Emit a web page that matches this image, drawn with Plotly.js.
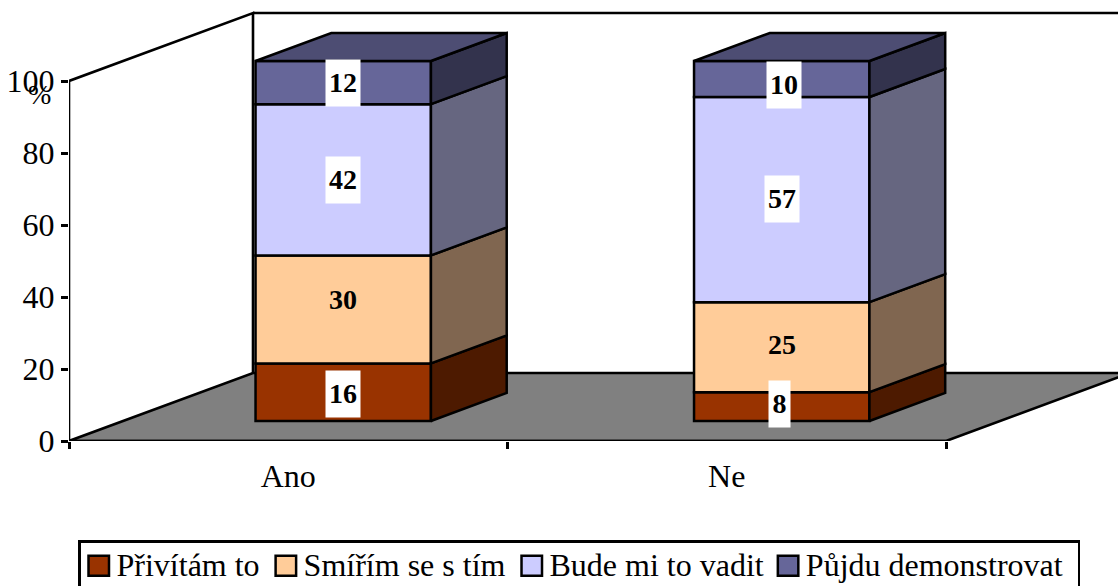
<!DOCTYPE html>
<html>
<head>
<meta charset="utf-8">
<script src="https://cdn.plot.ly/plotly-3.0.1.min.js"></script>
<style>html,body{margin:0;padding:0;background:#fff;overflow:hidden}</style>
</head>
<body>
<div id="chart" style="width:1118px;height:586px"></div>
<script>
const categories = ['Ano', 'Ne'];
const seriesNames = ['Přivítám to', 'Smířím se s tím', 'Bude mi to vadit', 'Půjdu demonstrovat'];
const privitam = [16, 8];
const smirim = [30, 25];
const vadit = [42, 57];
const demonstrovat = [12, 10];
const yTicks = [0, 20, 40, 60, 80, 100];

const seriesValues = [privitam, smirim, vadit, demonstrovat];
const frontColors = ['#993300', '#FFCC99', '#CCCCFF', '#666699'];
const sideColors = ['#4d1a00', '#806650', '#666680', '#33334d'];
const labelBackgrounds = ['#fff', 'rgba(0,0,0,0)', '#fff', '#fff'];
const topColor = '#4d4d73';

// Oblique projection of the chart's 3-D box onto the plane of the axes.
const depthX = 184 / 438.5, depthY = 68 / 3.6;
const dFront = 20 / 68, dBack = 48 / 68;
const barWidth = 0.4, centerOffset = 0.002;
const proj = (x, v, d) => [x + d * depthX, v + d * depthY];
const catPos = i => i + 0.5 + centerOffset;

const traces = [];
const cum = categories.map(() => 0);
const bases = [];
seriesValues.forEach((vals, s) => {
  const b = cum.slice();
  bases.push(b);
  vals.forEach((v, i) => cum[i] += v);
  const front = proj(0, 0, dFront);
  traces.push({
    type: 'bar', name: seriesNames[s],
    x: categories.map((c, i) => catPos(i) + front[0]),
    y: vals, base: b.map(v => v + front[1]), width: barWidth,
    marker: {color: frontColors[s], line: {color: '#000', width: 2.5}},
    hoverinfo: 'skip'
  });
});
// right side faces
seriesValues.forEach((vals, s) => {
  const X = [], Y = [];
  vals.forEach((v, i) => {
    const r = catPos(i) + barWidth / 2, lo = bases[s][i], hi = lo + v;
    [[lo, dFront], [lo, dBack], [hi, dBack], [hi, dFront], [lo, dFront]].forEach(p => {
      const q = proj(r, p[0], p[1]); X.push(q[0]); Y.push(q[1]);
    });
    X.push(null); Y.push(null);
  });
  traces.push({type: 'scatter', mode: 'lines', x: X, y: Y, fill: 'toself', fillcolor: sideColors[s],
    line: {color: '#000', width: 2.5}, showlegend: false, hoverinfo: 'skip'});
});
// top faces
(function () {
  const X = [], Y = [];
  categories.forEach((c, i) => {
    const l = catPos(i) - barWidth / 2, r = catPos(i) + barWidth / 2, t = cum[i];
    [[l, dFront], [r, dFront], [r, dBack], [l, dBack], [l, dFront]].forEach(p => {
      const q = proj(p[0], t, p[1]); X.push(q[0]); Y.push(q[1]);
    });
    X.push(null); Y.push(null);
  });
  traces.push({type: 'scatter', mode: 'lines', x: X, y: Y, fill: 'toself', fillcolor: topColor,
    line: {color: '#000', width: 2.5}, showlegend: false, hoverinfo: 'skip'});
})();
// axes frame and walls
const xEnd = categories.length;
const yTop = yTicks[yTicks.length - 1];
const wall = proj(0, yTop, 1), flr = proj(0, 0, 1);
traces.push({type: 'scatter', mode: 'lines', cliponaxis: false, showlegend: false, hoverinfo: 'skip',
  x: [xEnd, 0, 0, wall[0], flr[0], null, wall[0], 3],
  y: [0, 0, yTop, wall[1], flr[1], null, wall[1], wall[1]],
  line: {color: '#000', width: 2.6}});

const fr = proj(xEnd, 0, 1);
const floorPath = 'M0,0L' + flr[0] + ',' + flr[1] + 'L' + fr[0] + ',' + fr[1] + 'L' + xEnd + ',0Z';

// data labels: pixel nudges as seen in the reference, per category and series
const labelShiftX = [[0, 0, 0, 0], [-2.5, 0, 0, 2]];
const labelShiftY = [[-2, 9, 0, 0], [2.5, 2, 0.5, -6]];
const labelWidth = t => String(t).length > 1 ? 34 : 21;
const annotations = [];
seriesValues.forEach((vals, s) => vals.forEach((v, i) => {
  const c = proj(catPos(i), bases[s][i] + v / 2, dFront);
  annotations.push({
    x: c[0], y: c[1], xref: 'x', yref: 'y', text: '<b>' + v + '</b>', showarrow: false,
    bgcolor: labelBackgrounds[s], width: labelWidth(v), height: 45.5, borderpad: 0,
    xshift: labelShiftX[i][s], yshift: labelShiftY[i][s],
    font: {family: '"Liberation Serif"', size: 28, color: '#000'}
  });
}));
annotations.push({x: 0, y: 96.3, xref: 'x', yref: 'y', xshift: -30, text: '%', showarrow: false,
  font: {family: '"Liberation Serif"', size: 28, color: '#000'}});

const layout = {
  width: 1118, height: 586,
  margin: {l: 69, r: 0, t: 10, b: 145, pad: 0, autoexpand: false},
  paper_bgcolor: '#fff', plot_bgcolor: '#fff',
  barmode: 'overlay',
  font: {family: '"Liberation Serif"', color: '#000', size: 32},
  xaxis: {
    range: [0, 1049 / 438.5], showgrid: false, zeroline: false, showline: false,
    tickmode: 'array', tickvals: categories.map((c, i) => i + 0.5), ticktext: categories,
    ticks: 'outside', ticklen: 7, tickcolor: 'rgba(0,0,0,0)',
    tickfont: {family: '"Liberation Serif"', size: 32, color: '#000'},
    minor: {tickmode: 'array', tickvals: [0, 1, 2], ticks: 'outside', ticklen: 7, tickwidth: 2.5, tickcolor: '#000', showgrid: false}
  },
  yaxis: {
    range: [0, 431 / 3.6], showgrid: false, zeroline: false, showline: false,
    tickmode: 'array', tickvals: yTicks, ticks: 'outside', ticklen: 7, tickwidth: 2.5, tickcolor: '#000',
    tickfont: {family: '"Liberation Serif"', size: 32, color: '#000'}
  },
  shapes: [{type: 'path', xref: 'x', yref: 'y', layer: 'below', path: floorPath,
    fillcolor: '#808080', line: {color: '#000', width: 2.6}}],
  annotations: annotations,
  legend: {
    orientation: 'h', xref: 'paper', yref: 'paper',
    x: (78 - 69) / 1049, y: -(540 - 441) / 431, xanchor: 'left', yanchor: 'top',
    bgcolor: '#fff', bordercolor: '#000', borderwidth: 2.5, traceorder: 'normal',
    font: {family: '"Liberation Serif"', size: 32, color: '#000'}, itemclick: false, itemdoubleclick: false
  },
  showlegend: true
};

// Legend swatches are larger than Plotly's default and the entries sit a little tighter.
const legendNudgeX = [-4, -5, -6, -9];
const legendNudgeY = -6;
function tuneLegend() {
  document.querySelectorAll('#chart .legend .traces').forEach((g, i) => {
    if (!g.dataset.base) g.dataset.base = g.getAttribute('transform');
    const m = /translate\(([-\d.]+)[ ,]*([-\d.]*)\)/.exec(g.dataset.base);
    if (!m) return;
    g.setAttribute('transform', 'translate(' + (parseFloat(m[1]) + legendNudgeX[i]) + ',' + ((parseFloat(m[2]) || 0) + legendNudgeY) + ')');
    g.querySelectorAll('.legendpoints path').forEach(p => {
      p.setAttribute('d', 'M12.5,12H-8V-8H12.5Z');
      p.style.strokeWidth = '2.5px';
    });
  });
}
const gd = document.getElementById('chart');
Plotly.newPlot(gd, traces, layout, {displayModeBar: false}).then(() => {
  tuneLegend();
  gd.on('plotly_afterplot', tuneLegend);
  requestAnimationFrame(tuneLegend);
  setTimeout(tuneLegend, 50);
});
</script>
</body>
</html>
